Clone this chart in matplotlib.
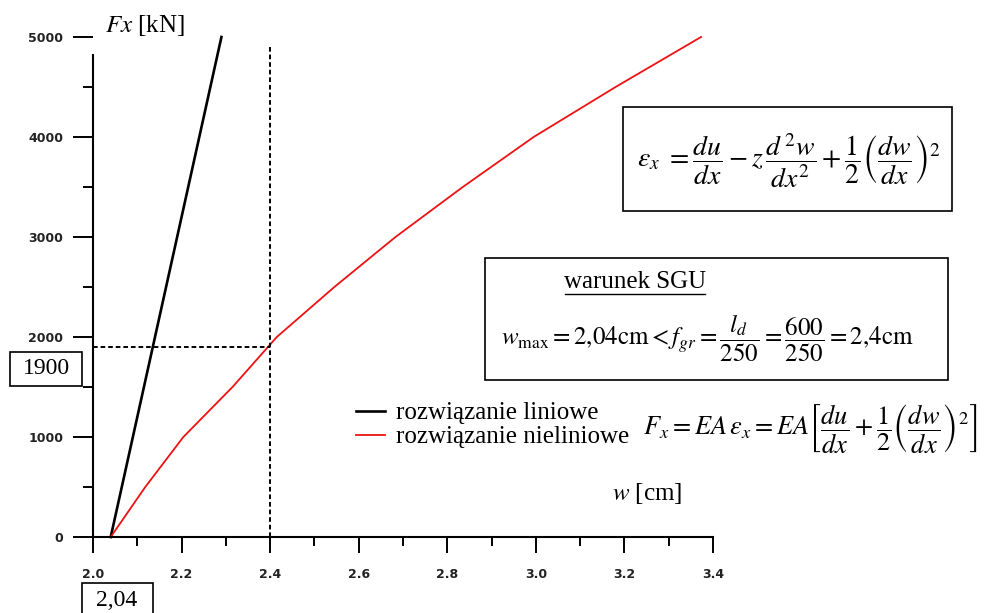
import matplotlib
matplotlib.use('Agg')
import matplotlib.pyplot as plt
from matplotlib.patches import Rectangle
from matplotlib.lines import Line2D
from matplotlib.ticker import MultipleLocator, FuncFormatter

plt.rcParams['mathtext.fontset'] = 'stix'
plt.rcParams['font.family'] = ['Liberation Serif', 'DejaVu Serif']

# data
F = [0, 500, 1000, 1500, 2000, 2500, 3000, 3500, 4000, 4500, 5000]
w_lin = [2.04, 2.065, 2.09, 2.115, 2.14, 2.165, 2.19, 2.215, 2.24, 2.265, 2.29]
w_nonlin = [2.04, 2.118, 2.204, 2.315, 2.415, 2.545, 2.683, 2.835, 2.995, 3.18, 3.373]
w_limit = 2.4
F_limit = 1900
F_top_dash = 4920
labels = ['rozwiązanie liniowe', 'rozwiązanie nieliniowe']

W, H = 986, 613
def px(x, y):
    return x / W, 1 - y / H

fig = plt.figure(figsize=(9.86, 6.13), dpi=100)
ax = fig.add_axes([93 / W, (H - 537) / H, 620 / W, 500 / H])

ax.plot(w_lin, F, color='black', lw=1.9, label=labels[0], clip_on=False)
ax.plot(w_nonlin, F, color='#ee1111', lw=1.3, label=labels[1], clip_on=False)
ax.plot([2.0, w_limit], [F_limit, F_limit], color='black', lw=1.4, dashes=(2.4, 1.5))
ax.plot([w_limit, w_limit], [0, F_top_dash], color='black', lw=1.4, dashes=(2.4, 1.5), clip_on=False)

ax.set_xlim(2.0, 3.4)
ax.set_ylim(0, 5000)
for s in ['top', 'right']:
    ax.spines[s].set_visible(False)
ax.spines['left'].set_bounds(0, 4820)
ax.spines['left'].set_linewidth(1.5)
ax.spines['bottom'].set_linewidth(1.5)

ax.xaxis.set_major_locator(MultipleLocator(0.2))
ax.xaxis.set_minor_locator(MultipleLocator(0.1))
ax.yaxis.set_major_locator(MultipleLocator(1000))
ax.yaxis.set_minor_locator(MultipleLocator(500))
ax.xaxis.set_major_formatter(FuncFormatter(lambda v, p: f'{v:.1f}'))
ax.tick_params(axis='y', which='major', length=14.5, width=1.4, pad=7)
ax.tick_params(axis='y', which='minor', length=7.2, width=1.4)
ax.tick_params(axis='x', which='major', length=11.5, width=1.4, pad=11)
ax.tick_params(axis='x', which='minor', length=6.5, width=1.4)
for lab in ax.get_xticklabels() + ax.get_yticklabels():
    lab.set_fontfamily('DejaVu Sans')
    lab.set_fontweight('bold')
    lab.set_fontsize(9)
    lab.set_color('#222222')

# axis titles
fig.text(*px(105, 26), r'$Fx$ [kN]', fontsize=18, va='center', ha='left')
fig.text(*px(612, 494), r'$w$ [cm]', fontsize=18, va='center', ha='left')

# legend
ax.legend(loc='upper left', bbox_to_anchor=px(356, 402), bbox_transform=fig.transFigure,
          frameon=False, fontsize=18, handlelength=1.15, handletextpad=0.45,
          labelspacing=0.05, borderpad=0, borderaxespad=0)

# formula boxes
def box(x0, y0, x1, y1):
    fig.patches.append(Rectangle(px(x0, y1), (x1 - x0) / W, (y1 - y0) / H,
                                 transform=fig.transFigure, fill=False,
                                 edgecolor='black', lw=1.2, clip_on=False))

box(623, 107, 952, 211)
fig.text(*px(789, 161),
         r'$\varepsilon_x\ =\dfrac{du}{dx} - z\,\dfrac{d^{\,2}w}{dx^2} + \dfrac{1}{2}\left(\dfrac{dw}{dx}\right)^2$',
         fontsize=20, ha='center', va='center')

box(485, 258, 948, 380)
fig.text(*px(635, 282), 'warunek SGU', fontsize=18, ha='center', va='center')
fig.lines.append(Line2D([565 / W, 705 / W], [1 - 294 / H] * 2, transform=fig.transFigure,
                        color='black', lw=1.0))
fig.text(*px(707, 338),
         r'$w_{\mathrm{max}}=2{,}04\mathrm{cm}<f_{gr}=\dfrac{l_d}{250}=\dfrac{600}{250}=2{,}4\mathrm{cm}$',
         fontsize=18, ha='center', va='center')

fig.text(*px(810, 428),
         r'$F_x = EA\,\varepsilon_x = EA\left[\dfrac{du}{dx} + \dfrac{1}{2}\left(\dfrac{dw}{dx}\right)^2\right]$',
         fontsize=19, ha='center', va='center')

# value boxes
box(10, 352, 82, 386)
fig.text(*px(46, 369), '1900', fontsize=17, ha='center', va='center')
box(82, 583, 153, 625)
fig.text(*px(117, 601), '2,04', fontsize=17, ha='center', va='center')

fig.savefig('out.png', dpi=100)
